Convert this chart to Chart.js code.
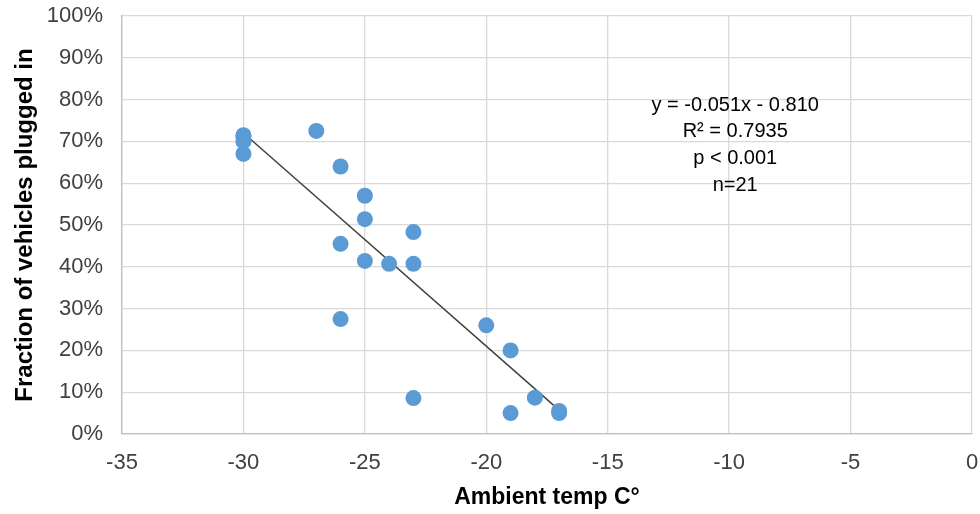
<!DOCTYPE html>
<html>
<head>
<meta charset="utf-8">
<script src="https://cdn.jsdelivr.net/npm/chart.js@4.4.0/dist/chart.umd.min.js"></script>
<style>
  html, body { margin: 0; padding: 0; background: #fff; }
  #wrap { width: 980px; height: 514px; }
</style>
</head>
<body>
<div id="wrap"><canvas id="my-chart" width="980" height="514"></canvas></div>
<script>
'use strict';

// ******* DATA *********
let tempValues = [-30, -30, -30, -30, -27, -26, -25, -25, -23, -26, -25, -24, -23, -26, -20, -19, -23, -18, -19, -17, -17];
let pluggedValues = [0.715, 0.70, 0.67, 0.712, 0.725, 0.64, 0.57, 0.514, 0.483, 0.455, 0.414, 0.407, 0.407, 0.275, 0.26, 0.20, 0.086, 0.087, 0.05, 0.055, 0.05];
let xTicks = [-35, -30, -25, -20, -15, -10, -5, 0];
let yTicks = [0, 0.1, 0.2, 0.3, 0.4, 0.5, 0.6, 0.7, 0.8, 0.9, 1];

// trend line from the fitted equation
let slope = -0.051;
let intercept = -0.810;
let trendX = [-30, -17];
let noteLines = ['y = -0.051x - 0.810', 'R\u00b2 = 0.7935', 'p < 0.001', 'n=21'];

let points = [];
for (let i = 0; i < tempValues.length; i++) {
  points.push({ x: tempValues[i], y: pluggedValues[i] });
}
let trendPoints = trendX.map(x => ({ x: x, y: slope * x + intercept }));

let fontFamily = '"Liberation Sans", Arial, sans-serif';

// ******* ANNOTATION PLUGIN *******
let notePlugin = {
  id: 'note',
  afterDatasetsDraw(chart) {
    let c = chart.ctx;
    let xs = chart.scales.x;
    let ys = chart.scales.y;
    let cx = xs.getPixelForValue(-9.75);
    let top = ys.getPixelForValue(0.787);
    c.save();
    c.font = '20px ' + fontFamily;
    c.fillStyle = '#000';
    c.textAlign = 'center';
    c.textBaseline = 'middle';
    for (let i = 0; i < noteLines.length; i++) {
      c.fillText(noteLines[i], cx, top + i * 26.8);
    }
    c.restore();
  }
};

let ctx = document.getElementById('my-chart');

new Chart(ctx, {
  type: 'scatter',
  data: {
    datasets: [{
      data: points,
      pointRadius: 8,
      pointHoverRadius: 8,
      backgroundColor: '#5b9bd5',
      borderColor: '#5b9bd5',
      borderWidth: 0
    },
    {
      type: 'line',
      data: trendPoints,
      borderColor: '#404040',
      borderWidth: 1.5,
      pointRadius: 0,
      fill: false
    }]
  },
  options: {
    responsive: false,
    animation: false,
    layout: { padding: { top: 16, right: 5, left: 0, bottom: 0 } },
    plugins: { legend: { display: false }, tooltip: { enabled: false } },
    scales: {
      x: {
        type: 'linear',
        min: -35,
        max: 0,
        afterBuildTicks(axis) { axis.ticks = xTicks.map(v => ({ value: v })); },
        afterFit(axis) {
          axis.height = 80;
          axis.paddingLeft = 0;
          axis.paddingRight = 0;
        },
        grid: { color: '#d9d9d9', lineWidth: 1.3, drawTicks: false },
        border: { color: '#bfbfbf', width: 1.3 },
        ticks: {
          color: '#404040',
          padding: 16,
          maxRotation: 0,
          font: { family: fontFamily, size: 22 }
        },
        title: {
          display: true,
          text: 'Ambient temp C\u00b0',
          color: '#000',
          padding: { top: 0, bottom: 3 },
          font: { family: fontFamily, size: 23, weight: 'bold' }
        }
      },
      y: {
        min: 0,
        max: 1,
        afterBuildTicks(axis) { axis.ticks = yTicks.map(v => ({ value: v })); },
        afterFit(axis) {
          axis.width = 122;
          axis.paddingTop = 0;
          axis.paddingBottom = 0;
        },
        grid: { color: '#d9d9d9', lineWidth: 1.3, drawTicks: false },
        border: { color: '#bfbfbf', width: 1.3 },
        ticks: {
          color: '#404040',
          padding: 19,
          callback: v => Math.round(v * 100) + '%',
          font: { family: fontFamily, size: 22 }
        },
        title: {
          display: true,
          text: 'Fraction of vehicles plugged in',
          color: '#000',
          padding: { top: 11, bottom: 0 },
          font: { family: fontFamily, size: 24, weight: 'bold' }
        }
      }
    }
  },
  plugins: [notePlugin]
});
</script>
</body>
</html>
